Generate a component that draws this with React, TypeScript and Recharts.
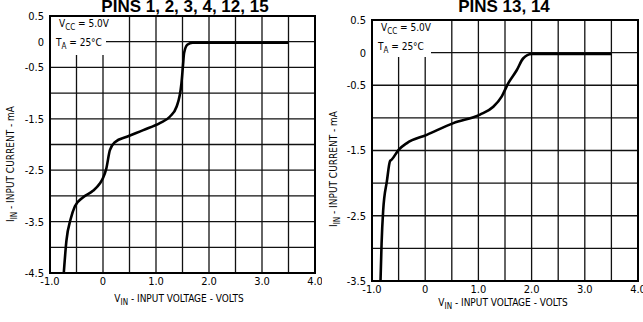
import { LineChart, Line, XAxis, YAxis, CartesianGrid, ReferenceArea } from 'recharts';

// left panel: pins 1, 2, 3, 4, 12, 15
const leftVin = [-0.74, -0.69, -0.61, -0.53, -0.38, -0.19, -0.06, 0.0, 0.06, 0.13, 0.23, 0.45, 0.76, 1.08, 1.26, 1.39, 1.48, 1.51, 1.53, 1.59, 1.69, 2.5, 3.5];
const leftIin = [-4.5, -3.87, -3.45, -3.2, -3.03, -2.9, -2.76, -2.65, -2.48, -2.11, -1.95, -1.85, -1.72, -1.58, -1.46, -1.26, -0.81, -0.45, -0.22, -0.06, -0.02, -0.02, -0.02];

// right panel: pins 13, 14
const rightVin = [-0.84, -0.82, -0.79, -0.72, -0.66, -0.63, -0.5, -0.35, 0.03, 0.53, 1.03, 1.28, 1.44, 1.56, 1.72, 1.84, 2.0, 2.8, 3.5];
const rightIin = [-3.5, -2.93, -2.42, -1.97, -1.66, -1.64, -1.49, -1.39, -1.26, -1.08, -0.95, -0.83, -0.67, -0.47, -0.27, -0.09, -0.02, -0.02, -0.02];

const xTicks = [-1, -0.5, 0, 0.5, 1, 1.5, 2, 2.5, 3, 3.5, 4];
const xLabels = ['-1.0', '0', '1.0', '2.0', '3.0', '4.0'];
const leftYTicks = [0.5, 0, -0.5, -1, -1.5, -2, -2.5, -3, -3.5, -4, -4.5];
const rightYTicks = [0.5, 0, -0.5, -1, -1.5, -2, -2.5, -3, -3.5];
const yLabels = ['0.5', '0', '-0.5', '-1.5', '-2.5', '-3.5', '-4.5'];

const fmtX = (v: number) => {
  const s = v === 0 ? '0' : v.toFixed(1);
  return xLabels.includes(s) ? s : '';
};
const fmtY = (v: number) => {
  const s = v === 0 ? '0' : v.toFixed(1);
  return yLabels.includes(s) ? s : '';
};

const tickFont = { fontFamily: 'DejaVu Sans Condensed', fontSize: 11, fill: '#000' };
const labelFont = { fontFamily: 'DejaVu Sans Condensed', fontSize: 10, color: '#000' };

function Panel(props: { vin: number[]; iin: number[]; yTicks: number[]; yMin: number; top: number; bottom: number; right: number }) {
  const data = props.vin.map((v, i) => ({ v, i: props.iin[i] }));
  return (
    <LineChart width={props.right === 7 ? 322 : 321} height={322} data={data}
      margin={{ top: props.top, right: props.right, left: 0, bottom: props.bottom }}>
      <CartesianGrid stroke="#111" strokeWidth={1.3} />
      <XAxis type="number" dataKey="v" domain={[-1, 4]} ticks={xTicks} tickFormatter={fmtX}
        allowDataOverflow height={30} tickLine={false} axisLine={false} tick={tickFont} tickSize={0} tickMargin={4} interval={0} />
      <YAxis type="number" dataKey="i" domain={[props.yMin, 0.5]} ticks={props.yTicks} tickFormatter={fmtY}
        allowDataOverflow width={50} tickLine={false} axisLine={false} tick={tickFont} tickSize={0} tickMargin={6} interval={0} />
      <ReferenceArea x1={-1} x2={4} y1={props.yMin} y2={0.5} fill="none" stroke="#000" strokeWidth={2} />
      <Line type="monotone" dataKey="i" stroke="#000" strokeWidth={2.6} dot={false} isAnimationActive={false} />
    </LineChart>
  );
}

function Note(props: { left: number; top: number; width: number; height: number }) {
  return (
    <div style={{ position: 'absolute', left: props.left, top: props.top, width: props.width, height: props.height, background: '#fff', ...labelFont }}>
      <div style={{ position: 'absolute', left: 8, top: 1, whiteSpace: 'nowrap' }}>V<sub style={{ fontSize: 8 }}>CC</sub> = 5.0V</div>
      <div style={{ position: 'absolute', left: 5, top: 20, whiteSpace: 'nowrap' }}>T<sub style={{ fontSize: 8 }}>A</sub> = 25°C</div>
    </div>
  );
}

function YLabel(props: { cx: number; cy: number }) {
  return (
    <div style={{ position: 'absolute', left: props.cx - 100, top: props.cy - 8, width: 200, textAlign: 'center', transform: 'rotate(-90deg)', whiteSpace: 'nowrap', ...labelFont }}>
      I<sub style={{ fontSize: 8 }}>IN</sub> - INPUT CURRENT - mA
    </div>
  );
}

function XLabel(props: { cx: number; top: number }) {
  return (
    <div style={{ position: 'absolute', left: props.cx - 100, top: props.top, width: 200, textAlign: 'center', whiteSpace: 'nowrap', ...labelFont }}>
      V<sub style={{ fontSize: 8 }}>IN</sub> - INPUT VOLTAGE - VOLTS
    </div>
  );
}

const titleStyle = { position: 'absolute' as const, top: -3, width: 300, textAlign: 'center' as const, fontFamily: 'Liberation Sans', fontWeight: 700, fontSize: 17, whiteSpace: 'nowrap' as const };

export default function App() {
  return (
    <div style={{ position: 'absolute', left: 0, top: 0, width: 643, height: 322, background: '#fff', overflow: 'hidden' }}>
      <div style={{ position: 'absolute', left: 0, top: 0 }}>
        <Panel vin={leftVin} iin={leftIin} yTicks={leftYTicks} yMin={-4.5} top={16} bottom={19} right={7} />
      </div>
      <div style={{ position: 'absolute', left: 322, top: 0 }}>
        <Panel vin={rightVin} iin={rightIin} yTicks={rightYTicks} yMin={-3.5} top={20} bottom={11} right={5} />
      </div>
      <div style={{ ...titleStyle, left: 185 - 150 }}>PINS 1, 2, 3, 4, 12, 15</div>
      <div style={{ ...titleStyle, left: 504 - 150 }}>PINS 13, 14</div>
      <Note left={51} top={17} width={55} height={38} />
      <Note left={373} top={21} width={58} height={36} />
      <YLabel cx={12} cy={165} />
      <YLabel cx={335} cy={170} />
      <XLabel cx={179} top={293} />
      <XLabel cx={503} top={297} />
    </div>
  );
}
